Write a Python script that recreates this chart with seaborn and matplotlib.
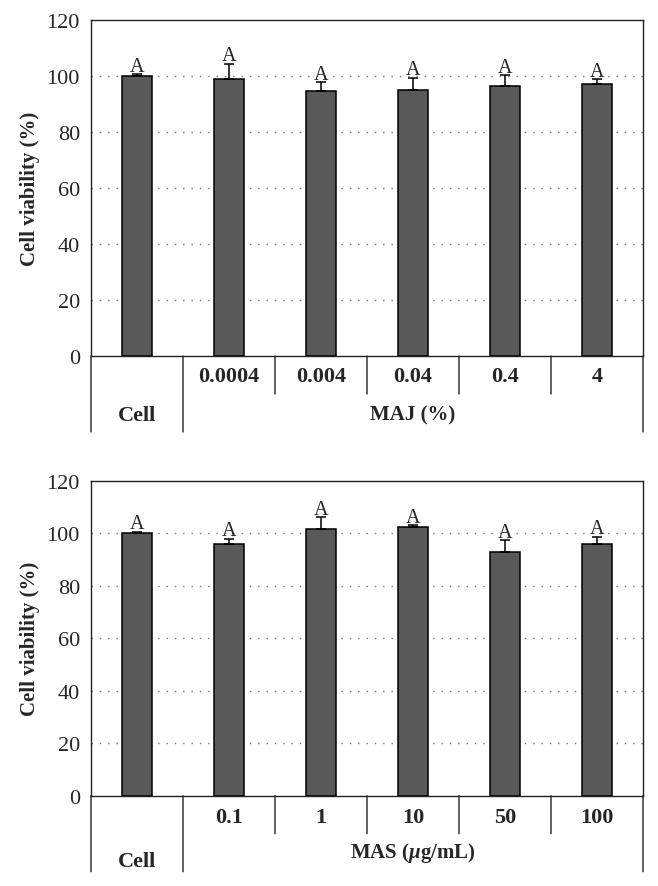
import matplotlib
matplotlib.use("Agg")
import matplotlib.pyplot as plt
import matplotlib.transforms as mtransforms
import seaborn as sns
import pandas as pd

# ---- data ----
maj_cats = ["Cell", "0.0004", "0.004", "0.04", "0.4", "4"]
maj_vals = [100.0, 99.0, 94.5, 94.9, 96.5, 97.3]
maj_err = [0.7, 5.3, 3.2, 4.5, 3.7, 1.6]
maj_letters = ["A", "A", "A", "A", "A", "A"]

mas_cats = ["Cell", "0.1", "1", "10", "50", "100"]
mas_vals = [100.0, 95.9, 101.5, 102.2, 92.7, 95.8]
mas_err = [0.6, 1.9, 4.5, 0.8, 4.7, 2.9]
mas_letters = ["A", "A", "A", "A", "A", "A"]

y_ticks = [0, 20, 40, 60, 80, 100, 120]

sns.set_theme(style="white")
plt.rcParams["font.family"] = ["Liberation Serif", "DejaVu Serif"]
plt.rcParams["mathtext.fontset"] = "custom"
plt.rcParams["mathtext.rm"] = "Liberation Serif:bold"
plt.rcParams["mathtext.it"] = "Liberation Serif:italic:bold"
plt.rcParams["mathtext.bf"] = "Liberation Serif:bold"

W, H = 658, 887
fig = plt.figure(figsize=(W / 100, H / 100), dpi=100)
ax1 = fig.add_axes([91 / W, 1 - 357 / H, 552 / W, 336 / H])
ax2 = fig.add_axes([91 / W, 1 - 796.7 / H, 552 / W, 315 / H])

BAR = "#595959"
FS_TICK = 16
FS_LAB = 15


def draw(ax, cats, vals, errs, letters, group_label, inner_px, outer_px,
         tick_base_px, cell_base_px, group_base_px):
    df = pd.DataFrame({"cat": cats, "val": vals})
    sns.barplot(data=df, x="cat", y="val", order=cats, color=BAR, saturation=1,
                width=0.32, edgecolor="black", linewidth=1.1, errorbar=None,
                ax=ax, zorder=3)
    xs = list(range(len(cats)))
    ax.errorbar(xs, vals, yerr=[[0] * len(vals), errs], fmt="none",
                ecolor="black", elinewidth=1.1, capsize=3.8, capthick=1.1,
                zorder=4)
    for x, v, e, t in zip(xs, vals, errs, letters):
        tr = mtransforms.offset_copy(ax.transData, fig=fig, y=3.5, units="dots")
        ax.text(x, v + e, t, ha="center", va="baseline", fontsize=14.5,
                transform=tr)
    ax.set_xlim(-0.5, len(cats) - 0.5)
    ax.set_ylim(0, 120)
    ax.set_yticks(y_ticks)
    ax.set_yticklabels([str(t) for t in y_ticks], fontsize=FS_TICK)
    ax.tick_params(axis="y", length=0, pad=8)
    ax.set_xticks([])
    ax.set_xlabel("")
    ax.set_ylabel("Cell viability (%)", fontsize=FS_LAB, fontweight="bold")
    ax.yaxis.set_label_coords(-0.093, 0.5)
    for yv in y_ticks[1:-1]:
        ax.axhline(yv, color="#777777", lw=1.0, ls=(0, (1, 5)), zorder=1)
    for s in ax.spines.values():
        s.set_visible(True)
        s.set_color("#222222")
        s.set_linewidth(1.0)

    xtr = ax.get_xaxis_transform()
    for xb in [-0.5, 0.5, len(cats) - 0.5]:
        tr = mtransforms.offset_copy(xtr, fig=fig, y=-outer_px, units="dots")
        ax.annotate("", xy=(xb, 0), xycoords=xtr,
                    xytext=(xb, 0), textcoords=tr,
                    arrowprops=dict(arrowstyle="-", color="#222222", lw=1.0,
                                    shrinkA=0, shrinkB=0))
    for xb in [i + 0.5 for i in range(1, len(cats) - 1)]:
        tr = mtransforms.offset_copy(xtr, fig=fig, y=-inner_px, units="dots")
        ax.annotate("", xy=(xb, 0), xycoords=xtr,
                    xytext=(xb, 0), textcoords=tr,
                    arrowprops=dict(arrowstyle="-", color="#222222", lw=1.0,
                                    shrinkA=0, shrinkB=0))
    trt = mtransforms.offset_copy(xtr, fig=fig, y=-tick_base_px, units="dots")
    for x, c in zip(xs[1:], cats[1:]):
        ax.text(x, 0, c, ha="center", va="baseline", fontsize=FS_TICK,
                fontweight="bold", transform=trt, clip_on=False)
    trc = mtransforms.offset_copy(xtr, fig=fig, y=-cell_base_px, units="dots")
    ax.text(0, 0, cats[0], ha="center", va="baseline", fontsize=FS_TICK,
            fontweight="bold", transform=trc, clip_on=False)
    trg = mtransforms.offset_copy(xtr, fig=fig, y=-group_base_px, units="dots")
    ax.text((0.5 + len(cats) - 0.5) / 2, 0, group_label, ha="center",
            va="baseline", fontsize=FS_LAB, fontweight="bold", transform=trg,
            clip_on=False)


draw(ax1, maj_cats, maj_vals, maj_err, maj_letters, "MAJ (%)",
     inner_px=38, outer_px=76, tick_base_px=25, cell_base_px=64,
     group_base_px=63)
draw(ax2, mas_cats, mas_vals, mas_err, mas_letters, r"MAS ($\mu$g/mL)",
     inner_px=38, outer_px=76, tick_base_px=26.5, cell_base_px=70,
     group_base_px=61)

fig.savefig("out.png", dpi=100)
